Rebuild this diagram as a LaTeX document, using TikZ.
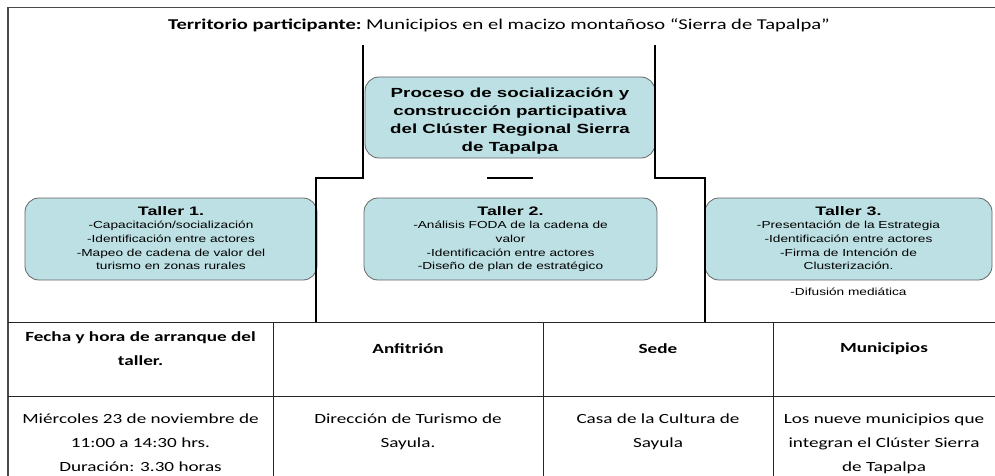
\documentclass[tikz,border=0pt]{standalone}
\usepackage{fontspec}
\setmainfont[FakeStretch=1.37]{Carlito}
\newfontfamily\arialf[FakeStretch=1.34]{Liberation Sans}
\newfontfamily\arialt[FakeStretch=1.45]{Liberation Sans}
\newfontfamily\arialc[FakeStretch=1.42]{Liberation Sans}
\definecolor{boxfill}{HTML}{BCE0E3}
\definecolor{framegray}{HTML}{4A4A4A}
\tikzset{
  pbox/.style={draw=black!60, fill=boxfill, rounded corners=14pt, line width=0.8pt, inner sep=0pt},
  boxtxt/.style={align=center, font=\arialf\fontsize{10.2}{13.7}\selectfont, inner sep=0pt},
  mainline/.style={line width=2.6pt, black},
  frame/.style={line width=1.4pt, framegray},
  grid/.style={line width=0.8pt, black!85},
  cell/.style={align=center, font=\fontsize{14}{24}\selectfont, inner sep=0pt},
  hcell/.style={cell, font=\bfseries\fontsize{14}{24}\selectfont}
}
\newcommand{\tallertitle}[1]{{\arialt\bfseries\fontsize{12.3}{15}\selectfont #1}}
\begin{document}
\begin{tikzpicture}[x=1pt,y=-1pt]
\useasboundingbox (0,0) rectangle (995,476);
% frame
\draw[frame] (8,476) -- (8,7.5) -- (995,7.5);
% title
\node[font=\fontsize{15}{17}\selectfont, inner sep=0pt] (title) at (499,25) {\textbf{Territorio participante:}\hspace{4.5pt}Municipios en el macizo montañoso “Sierra de Tapalpa”};
% boxes
\node[pbox, minimum width=290pt, minimum height=81pt] (proc) at (510,117.5) {};
\node[align=center, font=\arialc\bfseries\fontsize{13.2}{18}\selectfont, inner sep=0pt] (proct) at (510,121) {Proceso de socialización y\\construcción participativa\\del Clúster Regional Sierra\\de Tapalpa};
\node[pbox, minimum width=292pt, minimum height=82pt] (t1) at (171,239) {};
\node[pbox, minimum width=293pt, minimum height=82pt] (t2) at (510.5,239) {};
\node[pbox, minimum width=287pt, minimum height=82pt] (t3) at (848.5,239) {};
\node[boxtxt, anchor=north] (t1t) at (171,206) {\tallertitle{Taller 1.}\\-Capacitación/socialización\\-Identificación entre actores\\-Mapeo de cadena de valor del\\turismo en zonas rurales};
\node[boxtxt, anchor=north] (t2t) at (510.5,206) {\tallertitle{Taller 2.}\\-Análisis FODA de la cadena de\\valor\\-Identificación entre actores\\-Diseño de plan de estratégico};
\node[boxtxt, anchor=north] (t3t) at (848.5,206) {\tallertitle{Taller 3.}\\-Presentación de la Estrategia\\-Identificación entre actores\\-Firma de Intención de\\Clusterización.};
\node[boxtxt, anchor=north] (t3d) at (848.5,288) {-Difusión mediática};
% connector lines
\coordinate (la) at (363,45);
\coordinate (lb) at (363,178);
\coordinate (lc) at (316,178);
\coordinate (ld) at (316,322);
\coordinate (ra) at (655,45);
\coordinate (rb) at (655,178);
\coordinate (rc) at (705,178);
\coordinate (rd) at (705,322);
\coordinate (da) at (487,178);
\coordinate (db) at (533,178);
\draw[mainline] (la) -- (lb) -- (lc) -- (ld);
\draw[mainline] (ra) -- (rb) -- (rc) -- (rd);
\draw[mainline] (da) -- (db);
% table
\draw[grid] (8,322) -- (995,322);
\draw[grid] (8,396) -- (995,396);
\draw[grid] (273,322) -- (273,476);
\draw[grid] (543,322) -- (543,476);
\draw[grid] (773,322) -- (773,476);
\node[hcell] (h1) at (140.5,349) {Fecha y hora de arranque del\\taller.};
\node[hcell] (h2) at (408,349) {Anfitrión};
\node[hcell] (h3) at (658,349) {Sede};
\node[hcell] (h4) at (884,349) {Municipios};
\node[cell, anchor=north] (d1) at (140.5,414) {Miércoles 23 de noviembre de\\11:00 a 14:30 hrs.\\Duración: 3.30 horas};
\node[cell, anchor=north] (d2) at (408,414) {Dirección de Turismo de\\Sayula.};
\node[cell, anchor=north] (d3) at (658,414) {Casa de la Cultura de\\Sayula};
\node[cell, anchor=north] (d4) at (884,414) {Los nueve municipios que\\integran el Clúster Sierra\\de Tapalpa};
\end{tikzpicture}
\end{document}
